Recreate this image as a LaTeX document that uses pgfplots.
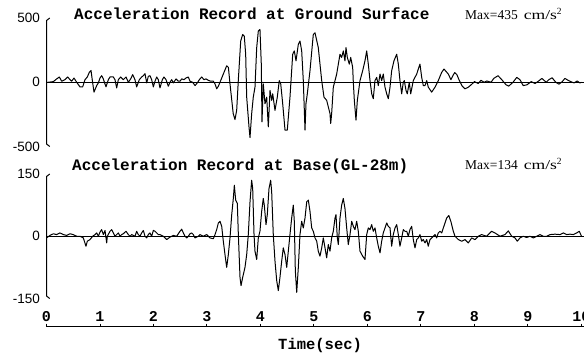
\documentclass[border=0pt]{standalone}
\usepackage{pgfplots}
\pgfplotsset{compat=1.18}
\usepackage{pgfplotstable}
\usepackage{graphicx}
\usepackage{fontspec}
\setmainfont{Liberation Serif}
\setsansfont{Liberation Sans}
\setmonofont{Liberation Mono}

\pgfplotstableread{
t a
0.00 0
0.034 0
0.128 5
0.19 26
0.24 41
0.284 8
0.346 20
0.396 41
0.44 20
0.47 8
0.514 33
0.564 0
0.626 -36
0.676 -36
0.72 20
0.763 41
0.8 77
0.832 92
0.863 -5
0.888 -77
0.938 -26
0.969 -5
1.0 33
1.031 51
1.062 26
1.112 -36
1.156 20
1.187 41
1.249 41
1.28 20
1.312 -44
1.343 20
1.386 41
1.436 20
1.486 41
1.53 0
1.573 26
1.611 59
1.654 20
1.685 -36
1.735 20
1.779 41
1.81 51
1.841 67
1.873 -5
1.903 46
1.935 51
1.966 20
1.997 -36
2.028 8
2.06 41
2.09 20
2.121 -44
2.165 20
2.196 41
2.234 20
2.277 -31
2.308 0
2.34 20
2.371 -5
2.421 26
2.464 8
2.495 8
2.527 26
2.57 20
2.607 33
2.651 41
2.682 8
2.732 0
2.776 -26
2.819 -5
2.857 20
2.9 41
2.944 20
2.981 26
3.025 15
3.069 8
3.118 8
3.15 -13
3.181 -51
3.212 -31
3.243 0
3.305 64
3.368 128
3.40 116
3.43 -13
3.49 -244
3.523 -290
3.555 -218
3.585 13
3.63 321
3.667 372
3.697 359
3.723 218
3.742 -116
3.785 -347
3.804 -430
3.835 -244
3.865 -116
3.897 -38
3.929 270
3.959 398
3.99 411
4.015 141
4.028 -308
4.052 -13
4.084 -167
4.116 -116
4.146 -347
4.178 -64
4.209 -141
4.228 -90
4.271 -218
4.314 -116
4.351 13
4.378 -13
4.415 -167
4.458 -372
4.501 -372
4.551 -116
4.602 218
4.632 244
4.664 167
4.707 295
4.738 321
4.77 244
4.8 13
4.832 -372
4.85 -167
4.875 -90
4.925 90
4.987 372
5.019 385
5.08 270
5.144 13
5.187 -116
5.237 -141
5.299 -244
5.312 -321
5.33 -244
5.361 -38
5.393 13
5.424 64
5.455 141
5.486 218
5.517 193
5.548 244
5.579 167
5.598 270
5.623 193
5.66 141
5.686 193
5.723 116
5.735 0
5.754 -141
5.785 -295
5.81 -141
5.86 13
5.91 90
5.953 167
5.985 244
6.015 141
6.047 13
6.079 -90
6.108 -128
6.14 13
6.172 38
6.202 -26
6.234 64
6.265 13
6.295 64
6.327 -38
6.359 -90
6.389 -128
6.421 -38
6.452 90
6.495 167
6.546 218
6.576 141
6.607 13
6.639 -90
6.669 0
6.688 13
6.72 -64
6.744 -90
6.781 0
6.808 -90
6.856 13
6.92 64
6.95 103
6.981 141
7.013 38
7.043 -26
7.075 -26
7.107 13
7.136 -38
7.2 -77
7.262 -38
7.323 13
7.387 77
7.43 103
7.51 64
7.56 20
7.6 55
7.63 75
7.67 60
7.71 20
7.77 -30
7.82 -51
7.88 -40
7.95 -15
8.0 5
8.07 -10
8.12 15
8.18 0
8.23 10
8.31 0
8.36 30
8.44 51
8.51 20
8.59 -20
8.64 -30
8.72 0
8.79 38
8.85 20
8.91 -26
8.98 -20
9.06 5
9.13 -10
9.2 10
9.26 30
9.34 0
9.39 20
9.45 35
9.52 0
9.58 -15
9.64 5
9.69 30
9.75 15
9.8 5
9.86 -5
9.92 10
9.97 -5
10.0 0
}\topdata

\pgfplotstableread{
t a
0.0 -4
0.065 2
0.128 6
0.19 4
0.252 8
0.315 4
0.377 2
0.44 6
0.5 4
0.564 0
0.626 0
0.688 -4
0.738 -24
0.763 -12
0.813 -8
0.863 0
0.907 4
0.938 8
0.969 0
1.0 10
1.031 16
1.062 4
1.094 14
1.125 -16
1.137 0
1.187 12
1.218 16
1.249 8
1.28 0
1.312 4
1.343 8
1.374 0
1.405 4
1.436 6
1.486 12
1.53 4
1.561 0
1.592 4
1.654 0
1.685 12
1.717 4
1.748 0
1.779 8
1.81 14
1.841 0
1.873 -4
1.903 4
1.935 8
1.966 0
1.997 14
2.028 12
2.06 8
2.09 4
2.121 4
2.184 0
2.246 -8
2.308 -2
2.371 2
2.433 0
2.495 12
2.527 17
2.558 8
2.589 0
2.62 -4
2.651 0
2.682 6
2.713 8
2.745 4
2.776 -4
2.838 0
2.869 4
2.931 0
2.994 4
3.056 -4
3.118 -6
3.15 4
3.181 16
3.212 32
3.243 36
3.275 24
3.305 -12
3.336 -44
3.368 -75
3.399 -44
3.43 -4
3.462 52
3.492 91
3.511 123
3.536 87
3.567 79
3.586 4
3.617 -99
3.636 -119
3.667 -99
3.71 -75
3.742 -44
3.772 4
3.804 83
3.835 135
3.854 115
3.879 4
3.897 -36
3.929 -56
3.959 -4
3.99 12
4.022 60
4.052 91
4.071 75
4.103 28
4.127 52
4.159 115
4.19 135
4.209 107
4.239 4
4.271 -60
4.303 -107
4.333 -131
4.364 -99
4.396 -60
4.426 -28
4.458 -44
4.49 -75
4.52 -36
4.551 4
4.583 44
4.613 75
4.632 36
4.651 -83
4.677 -135
4.707 -75
4.738 4
4.77 36
4.8 20
4.832 44
4.864 83
4.894 87
4.925 60
4.957 20
4.987 12
5.019 -4
5.051 -12
5.08 -36
5.112 -48
5.144 -28
5.174 -4
5.206 -28
5.237 -52
5.267 -20
5.299 -36
5.33 -4
5.361 12
5.393 44
5.411 52
5.436 -4
5.455 -20
5.486 44
5.517 75
5.548 91
5.579 67
5.611 20
5.641 -20
5.673 4
5.705 36
5.735 24
5.766 16
5.798 36
5.828 12
5.86 -36
5.91 -48
5.953 -56
5.985 4
6.015 20
6.047 16
6.079 28
6.108 12
6.14 20
6.172 -4
6.202 -24
6.234 -40
6.265 -12
6.295 8
6.327 20
6.359 32
6.389 24
6.421 20
6.452 -24
6.482 4
6.514 20
6.546 28
6.576 4
6.607 -24
6.639 -4
6.669 16
6.701 12
6.733 12
6.763 0
6.794 16
6.826 24
6.856 -8
6.888 -28
6.92 -8
6.95 -4
6.981 4
7.013 -12
7.043 -8
7.075 -16
7.107 -8
7.136 -24
7.168 -8
7.2 -4
7.23 0
7.262 4
7.293 -4
7.323 8
7.355 12
7.387 8
7.417 20
7.449 32
7.48 44
7.52 50
7.56 35
7.604 12
7.636 0
7.697 -8
7.761 -12
7.822 -8
7.884 -16
7.948 -4
8.009 -8
8.071 0
8.134 4
8.228 0
8.321 12
8.383 8
8.477 0
8.57 4
8.632 13
8.695 0
8.757 -4
8.8 -12
8.85 -4
8.912 0
8.976 -3
9.037 0
9.1 -4
9.162 0
9.224 4
9.286 0
9.35 0
9.411 4
9.505 5
9.598 4
9.66 8
9.723 4
9.785 5
9.847 4
9.91 8
9.959 12
10.0 0
}\bottomdata

\begin{document}
\begin{tikzpicture}
\pgfplotsset{
  panel/.style={
    scale only axis, width=538.2pt, xmin=0, xmax=10.06,
    axis x line=none, axis y line=left,
    y axis line style={draw=none},
    major tick length=0pt,
    yticklabel style={font=\sffamily\fontsize{13.5}{14}\selectfont, anchor=east, inner sep=0pt, xshift=-6.5pt},
    clip=false
  },
  trace/.style={black, line width=1pt, line join=round}
}
% top panel
\begin{axis}[panel, at={(46.5pt,-146.5pt)}, anchor=south west, height=128.5pt,
  ymin=-500, ymax=500, ytick={-500,0,500}, yticklabels={-500,0,500}]
\addplot[trace] table[x=t,y=a]{\topdata};
\addplot[black, line width=1pt] coordinates {(0,0) (10.06,0)};
\draw[line width=1pt] (axis cs:0.06,500) -- (axis cs:0,480) -- (axis cs:0,-480) -- (axis cs:0.06,-500);
\end{axis}
% bottom panel
\begin{axis}[panel, at={(46.5pt,-298.5pt)}, anchor=south west, height=124.5pt,
  ymin=-150, ymax=150, ytick={-150,0,150}, yticklabels={-150,0,150}]
\addplot[trace] table[x=t,y=a]{\bottomdata};
\addplot[black, line width=1pt] coordinates {(0,0) (10.06,0)};
\draw[line width=1pt] (axis cs:0.06,150) -- (axis cs:0,144) -- (axis cs:0,-144) -- (axis cs:0.06,-150);
\end{axis}
% time axis
\begin{axis}[scale only axis, width=538.2pt, height=10pt, xmin=0, xmax=10.06, ymin=0, ymax=1,
  at={(46.5pt,-326.7pt)}, anchor=north west,
  axis x line=top, axis y line=none,
  x axis line style={-, line width=1pt},
  xtick={0,1,2,3,4,5,6,7,8,9,10}, xticklabels={0,1,2,3,4,5,6,7,8,9,10},
  tick align=outside, major tick length=3pt,
  every tick/.style={black, line width=1pt},
  xticklabel style={font=\ttfamily\bfseries\fontsize{15}{15}\selectfont, inner sep=0pt, anchor=south, yshift=2pt}]
\addplot[draw=none] coordinates {(0,0.5)};
\end{axis}
% texts
\node[anchor=base west, inner sep=0pt, font=\ttfamily\bfseries\fontsize{16}{16}\selectfont] at (74pt,-19.3pt) {Acceleration Record at Ground Surface};
\node[anchor=base west, inner sep=0pt, font=\ttfamily\bfseries\fontsize{16}{16}\selectfont] at (72pt,-170pt) {Acceleration Record at Base(GL-28m)};
\node[anchor=base west, inner sep=0pt, font=\fontsize{13.5}{14}\selectfont] at (465pt,-19.3pt) {Max=435\hspace{6pt}\scalebox{1.3}[1]{cm/s}\textsuperscript{2}};
\node[anchor=base west, inner sep=0pt, font=\fontsize{13.5}{14}\selectfont] at (465pt,-169.3pt) {Max=134\hspace{6pt}\scalebox{1.3}[1]{cm/s}\textsuperscript{2}};
\node[anchor=base west, inner sep=0pt, font=\ttfamily\bfseries\fontsize{15.5}{16}\selectfont] at (278pt,-349pt) {Time(sec)};
\pgfresetboundingbox
\useasboundingbox (0,0) rectangle (584pt,-354pt);
\end{tikzpicture}
\end{document}
